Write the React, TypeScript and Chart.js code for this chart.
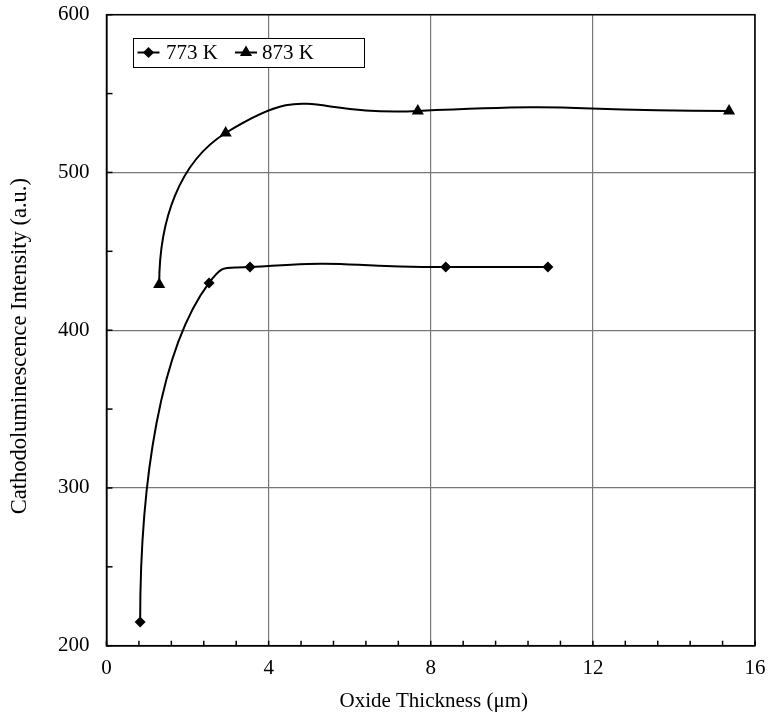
import React, { useEffect, useRef } from "react";
import { Chart, registerables } from "chart.js";

Chart.register(...registerables);

// ---- data ----
const seriesLabels = ["773 K", "873 K"];
const x773 = [0.83, 2.53, 3.54, 8.37, 10.89];
const y773 = [215, 430, 440, 440, 440];
const x873 = [1.3, 2.94, 7.68, 15.36];
const y873 = [429, 525, 539, 539];

const xMin = 0;
const xMax = 16;
const xStep = 4;
const xMinorStep = 0.8;
const yMin = 200;
const yMax = 600;
const yStep = 100;
const yMinorStep = 50;

const xTitle = "Oxide Thickness (\u03bcm)";
const yTitle = "Cathodoluminescence Intensity (a.u.)";

const FONT = '"Liberation Serif", "Times New Roman", serif';

function drawMarker(ctx: CanvasRenderingContext2D, style: string, x: number, y: number, r: number) {
  ctx.beginPath();
  if (style === "rectRot") {
    ctx.moveTo(x, y - r);
    ctx.lineTo(x + r, y);
    ctx.lineTo(x, y + r);
    ctx.lineTo(x - r, y);
  } else {
    ctx.moveTo(x, y - r);
    ctx.lineTo(x + r * 0.866, y + r / 2);
    ctx.lineTo(x - r * 0.866, y + r / 2);
  }
  ctx.closePath();
  ctx.fill();
}

// Spreadsheet-like smoothing of the first segment: vertical start, rounded arrival
const curvePlugin = {
  id: "curveStart",
  beforeDatasetsDraw(chart: any) {
    chart.data.datasets.forEach((_: any, i: number) => {
      const meta = chart.getDatasetMeta(i);
      const line = meta.dataset;
      if (!line) return;
      line.updateControlPoints(chart.chartArea, "x");
      const pts = meta.data;
      if (pts.length < 2) return;
      const p0 = pts[0];
      const p1 = pts[1];
      const dx = p1.x - p0.x;
      const dy = p1.y - p0.y;
      p0.cp2x = p0.x;
      p0.cp2y = p0.y + dy * 0.42;
      const c2x = p1.x - 0.7 * dx;
      const c2y = p1.y - 0.19 * dy;
      p1.cp1x = c2x;
      p1.cp1y = c2y;
      const L = Math.hypot(p1.cp2x - p1.x, p1.cp2y - p1.y);
      const ux = p1.x - c2x;
      const uy = p1.y - c2y;
      const n = Math.hypot(ux, uy) || 1;
      p1.cp2x = p1.x + (L * ux) / n;
      p1.cp2y = p1.y + (L * uy) / n;
    });
  },
};

const framePlugin = {
  id: "frameTicks",
  afterDraw(chart: any) {
    const ctx: CanvasRenderingContext2D = chart.ctx;
    const { left, right, top, bottom } = chart.chartArea;
    const xs = chart.scales.x;
    const ys = chart.scales.y;
    ctx.save();
    ctx.strokeStyle = "#000";
    ctx.lineWidth = 1.5;
    // frame
    ctx.strokeRect(left, top, right - left, bottom - top);
    // x minor ticks (inward)
    const nx = Math.round((xMax - xMin) / xMinorStep);
    for (let i = 0; i <= nx; i++) {
      const px = xs.getPixelForValue(xMin + i * xMinorStep);
      ctx.beginPath();
      ctx.moveTo(px, bottom);
      ctx.lineTo(px, bottom - 5);
      ctx.stroke();
    }
    // y ticks (inward)
    const ny = Math.round((yMax - yMin) / yMinorStep);
    for (let i = 0; i <= ny; i++) {
      const py = ys.getPixelForValue(yMin + i * yMinorStep);
      ctx.beginPath();
      ctx.moveTo(left, py);
      ctx.lineTo(left + 6, py);
      ctx.stroke();
    }
    // axis titles
    ctx.fillStyle = "#000";
    ctx.textAlign = "center";
    ctx.textBaseline = "middle";
    ctx.font = `21px ${FONT}`;
    ctx.fillText(xTitle, (left + right) / 2 + 3, 701);
    ctx.save();
    ctx.translate(20, (top + bottom) / 2 + 16);
    ctx.rotate(-Math.PI / 2);
    ctx.font = `22.5px ${FONT}`;
    ctx.fillText(yTitle, 0, 0);
    ctx.restore();
    // legend
    const bx = 133, by = 38, bw = 231, bh = 29;
    ctx.fillStyle = "#fff";
    ctx.fillRect(bx, by, bw, bh);
    ctx.strokeStyle = "#000";
    ctx.lineWidth = 1;
    ctx.strokeRect(bx + 0.5, by + 0.5, bw, bh);
    const entries = [
      { mx: 148.5, tx: 166 },
      { mx: 246, tx: 262 },
    ];
    const cy = by + bh / 2;
    chart.data.datasets.forEach((ds: any, i: number) => {
      const e = entries[i];
      ctx.strokeStyle = "#000";
      ctx.fillStyle = "#000";
      ctx.lineWidth = 2;
      ctx.beginPath();
      ctx.moveTo(e.mx - 11, cy);
      ctx.lineTo(e.mx + 11, cy);
      ctx.stroke();
      drawMarker(ctx, ds.pointStyle, e.mx, cy, ds.pointRadius);
      ctx.font = `21px ${FONT}`;
      ctx.textBaseline = "middle";
      ctx.textAlign = "left";
      ctx.fillText(ds.label, e.tx, cy + 1);
    });
    ctx.restore();
  },
};

export default function App() {
  const ref = useRef<HTMLCanvasElement | null>(null);
  useEffect(() => {
    if (!ref.current) return;
    const chart = new Chart(ref.current, {
      type: "line",
      data: {
        datasets: [
          {
            label: seriesLabels[0],
            data: x773.map((x, i) => ({ x, y: y773[i] })),
            borderColor: "#000",
            backgroundColor: "#000",
            borderWidth: 2,
            pointStyle: "rectRot",
            pointRadius: 5.5,
            pointBorderWidth: 0,
            tension: 0.6,
          },
          {
            label: seriesLabels[1],
            data: x873.map((x, i) => ({ x, y: y873[i] })),
            borderColor: "#000",
            backgroundColor: "#000",
            borderWidth: 2,
            pointStyle: "triangle",
            pointRadius: 7,
            pointBorderWidth: 0,
            tension: 0.6,
          },
        ],
      },
      options: {
        animation: false,
        responsive: false,
        devicePixelRatio: 1,
        layout: { padding: { top: 14.7, right: 14, left: 0, bottom: 0 } },
        plugins: { legend: { display: false }, tooltip: { enabled: false } },
        scales: {
          x: {
            type: "linear",
            min: xMin,
            max: xMax,
            afterFit: (s: any) => {
              s.height = 71.3;
              s.paddingLeft = 0;
              s.paddingRight = 0;
            },
            ticks: { stepSize: xStep, color: "#000", font: { family: FONT, size: 21 }, padding: 10, maxRotation: 0 },
            grid: { color: "#777", lineWidth: 1.2, drawTicks: false },
            border: { color: "#000", width: 1.5 },
            title: { display: false, text: xTitle },
          },
          y: {
            type: "linear",
            min: yMin,
            max: yMax,
            afterFit: (s: any) => {
              s.width = 106.5;
              s.paddingTop = 0;
              s.paddingBottom = 0;
            },
            ticks: { stepSize: yStep, color: "#000", font: { family: FONT, size: 21 }, padding: 17 },
            grid: { color: "#777", lineWidth: 1.2, drawTicks: false },
            border: { color: "#000", width: 1.5 },
            title: { display: false, text: yTitle },
          },
        },
      },
      plugins: [curvePlugin, framePlugin],
    });
    return () => chart.destroy();
  }, []);
  return (
    <div style={{ position: "absolute", left: 0, top: 0, width: 769, height: 717, background: "#fff" }}>
      <canvas ref={ref} width={769} height={717} />
    </div>
  );
}
